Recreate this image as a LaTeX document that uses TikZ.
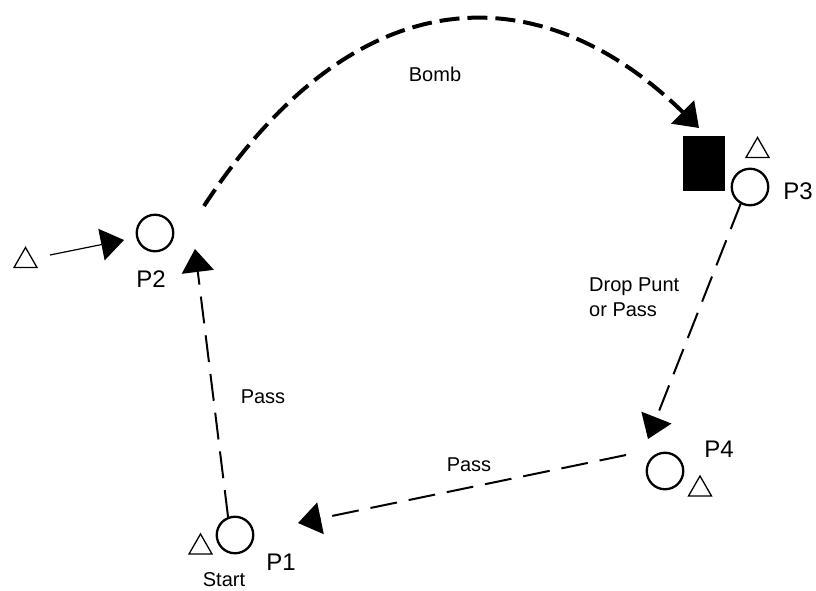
\documentclass[tikz,border=0pt]{standalone}
\usepackage{fontspec}
\setmainfont{Liberation Sans}
\usetikzlibrary{arrows.meta}
\begin{document}
\begin{tikzpicture}[x=1pt,y=1pt,
  player/.style={circle,draw,line width=2.3pt,minimum size=36.5pt,inner sep=0pt},
  plabel/.style={font=\fontsize{24}{28}\selectfont,inner sep=0pt,anchor=base},
  tlabel/.style={font=\fontsize{20}{24}\selectfont,inner sep=0pt},
  bigtip/.style={-{Triangle[length=23pt,width=32pt]}},
  passline/.style={line width=2pt,dash pattern=on 27pt off 12pt,bigtip},
  bombline/.style={line width=4pt,dash pattern=on 20pt off 8pt,bigtip},
  runline/.style={line width=1.2pt,bigtip},
  tri/.pic={\draw[line width=1.3pt,line join=miter] (-11.5,-10) -- (11.5,-10) -- (0,10) -- cycle;}
]
\useasboundingbox (0,0) rectangle (816,590);

% players
\node[player] (P2) at (155,357) {};
\node[player] (P3) at (750,403) {};
\node[player] (P4) at (665,119) {};
\node[player] (P1) at (235,55) {};

% opponents
\pic (t2) at (25.5,332.5) {tri};
\pic (t3) at (757.5,442.5) {tri};
\pic (t4) at (700,104) {tri};
\pic (t1) at (200.5,46) {tri};

% block
\fill (683,399) rectangle (725,454);

% labels
\node[plabel] (lP2) at (151,303) {P2};
\node[plabel] (lP3) at (798,390) {P3};
\node[plabel] (lP4) at (719,133) {P4};
\node[plabel] (lP1) at (281,20) {P1};
\node[tlabel,anchor=base] (lstart) at (224,4) {Start};
\node[tlabel,anchor=base] (lbomb) at (435,508.6) {Bomb};
\node[tlabel,anchor=base] (lpass1) at (263,186.7) {Pass};
\node[tlabel,anchor=base] (lpass2) at (469,118.3) {Pass};
\node[tlabel,anchor=base west] (ldp1) at (589,298.3) {Drop Punt};
\node[tlabel,anchor=base west] (ldp2) at (589,273.3) {or Pass};

% connector end points
\coordinate (runS) at (50,335);
\coordinate (runE) at (124,350);
\coordinate (p12E) at (195,341);
\coordinate (p34E) at (648,151);
\coordinate (p41S) at (626,135);
\coordinate (p41E) at (298,67);
\coordinate (bombS) at (204,384);
\coordinate (bombE) at (699,462);

% connectors
\draw[runline] (runS) -- (runE);
\draw[passline] (P1.111) -- (p12E);
\draw[passline] (P3.241) -- (p34E);
\draw[passline] (p41S) -- (p41E);
\draw[bombline] (bombS) .. controls (362,625) and (548,610) .. (bombE);
\end{tikzpicture}
\end{document}
